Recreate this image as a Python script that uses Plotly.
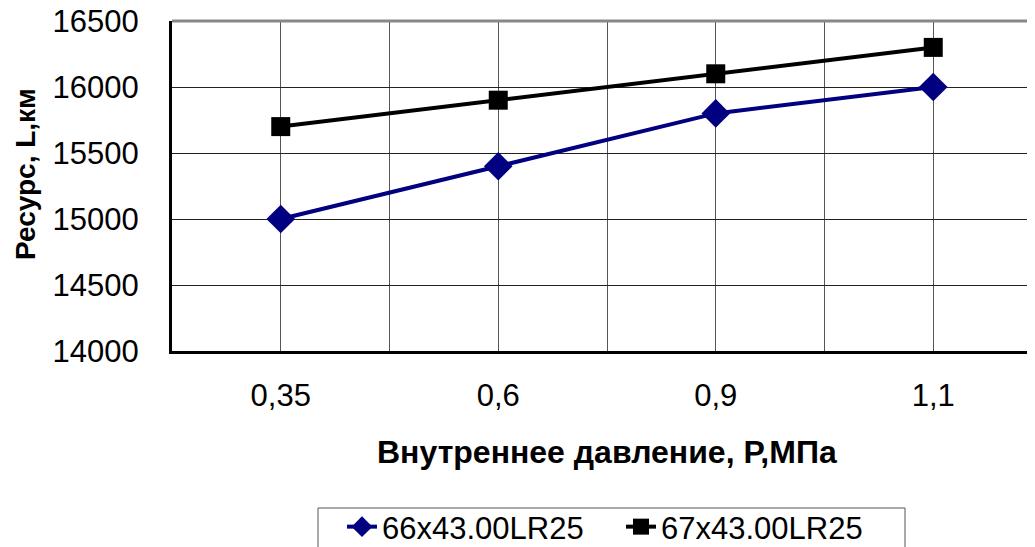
import plotly.graph_objects as go

categories = ["0,35", "0,6", "0,9", "1,1"]
series1_name = "66x43.00LR25"
series1 = [15000, 15400, 15800, 16000]
series2_name = "67x43.00LR25"
series2 = [15700, 15900, 16100, 16300]
y_ticks = [14000, 14500, 15000, 15500, 16000, 16500]
y_ticklabels = ["14000", "14500", "15000", "15500", "16000", "16500"]

xpos = list(range(len(categories)))

OFF = 8  # default page body margin
W, H = 1035 - OFF, 547 - OFF
L, R, T, B = 172 - OFF, 0, 21 - OFF, 547 - 351
pw = W - L - R
ph = H - T - B
band = 217.5
x_hi = -0.5 + pw / band


def px_x(xw):
    return (xw - OFF - L) / pw


def px_y(yw):
    return (T + ph - (yw - OFF)) / ph


fig = go.Figure()
fig.add_trace(go.Scatter(
    x=xpos, y=series1, name=series1_name, mode="lines+markers",
    line=dict(color="#000080", width=4),
    marker=dict(symbol="diamond", size=22, color="#000080"),
))
fig.add_trace(go.Scatter(
    x=xpos, y=series2, name=series2_name, mode="lines+markers",
    line=dict(color="#000000", width=4),
    marker=dict(symbol="square", size=19, color="#000000"),
))

tickvals = []
ticktext = []
for i, c in enumerate(categories):
    tickvals += [i - 0.5, i]
    ticktext += ["", c]
tickvals.append(len(categories) - 0.5)
ticktext.append("")

fig.update_layout(
    width=W, height=H,
    margin=dict(l=L, r=R, t=T, b=B, autoexpand=False),
    paper_bgcolor="white", plot_bgcolor="white",
    font=dict(family="Liberation Sans, Arial, sans-serif", size=31, color="black"),
    showlegend=True,
    legend=dict(
        orientation="h", x=px_x(342), xanchor="left",
        y=px_y(500), yanchor="top",
        borderwidth=0, bgcolor="rgba(0,0,0,0)",
        font=dict(size=31), itemsizing="trace",
        entrywidth=234, entrywidthmode="pixels",
        tracegroupgap=0,
    ),
    xaxis=dict(
        range=[-0.5, x_hi], tickmode="array", tickvals=tickvals, ticktext=ticktext,
        showgrid=True, gridcolor="#555555", gridwidth=1,
        showline=True, linecolor="black", linewidth=3,
        ticks="outside", ticklen=15, tickcolor="rgba(0,0,0,0)",
        zeroline=False, fixedrange=True,
    ),
    yaxis=dict(
        range=[y_ticks[0], y_ticks[-1]], tickmode="array", tickvals=y_ticks,
        ticktext=y_ticklabels, ticklabeloverflow="allow",
        showgrid=True, gridcolor="#222222", gridwidth=1,
        showline=True, linecolor="black", linewidth=3,
        ticks="outside", ticklen=24, tickcolor="rgba(0,0,0,0)",
        zeroline=False, fixedrange=True,
    ),
    shapes=[
        dict(type="line", xref="paper", yref="paper", x0=0, x1=1, y0=1, y1=1,
             line=dict(color="#888888", width=3)),
        dict(type="rect", xref="paper", yref="paper",
             x0=px_x(318), x1=px_x(905), y0=px_y(508), y1=px_y(570),
             line=dict(color="#555555", width=1), fillcolor="rgba(0,0,0,0)"),
    ],
    annotations=[
        dict(text="<b>Внутреннее давление, Р,МПа</b>", xref="paper", yref="paper",
             x=px_x(607), y=px_y(452), xanchor="center", yanchor="middle",
             showarrow=False, font=dict(size=32)),
        dict(text="<b>Ресурс, L,км</b>", xref="paper", yref="paper",
             x=px_x(25), y=px_y(174), xanchor="center", yanchor="middle",
             textangle=-90, showarrow=False, font=dict(size=28)),
    ],
)

fig.write_html("out.html")
